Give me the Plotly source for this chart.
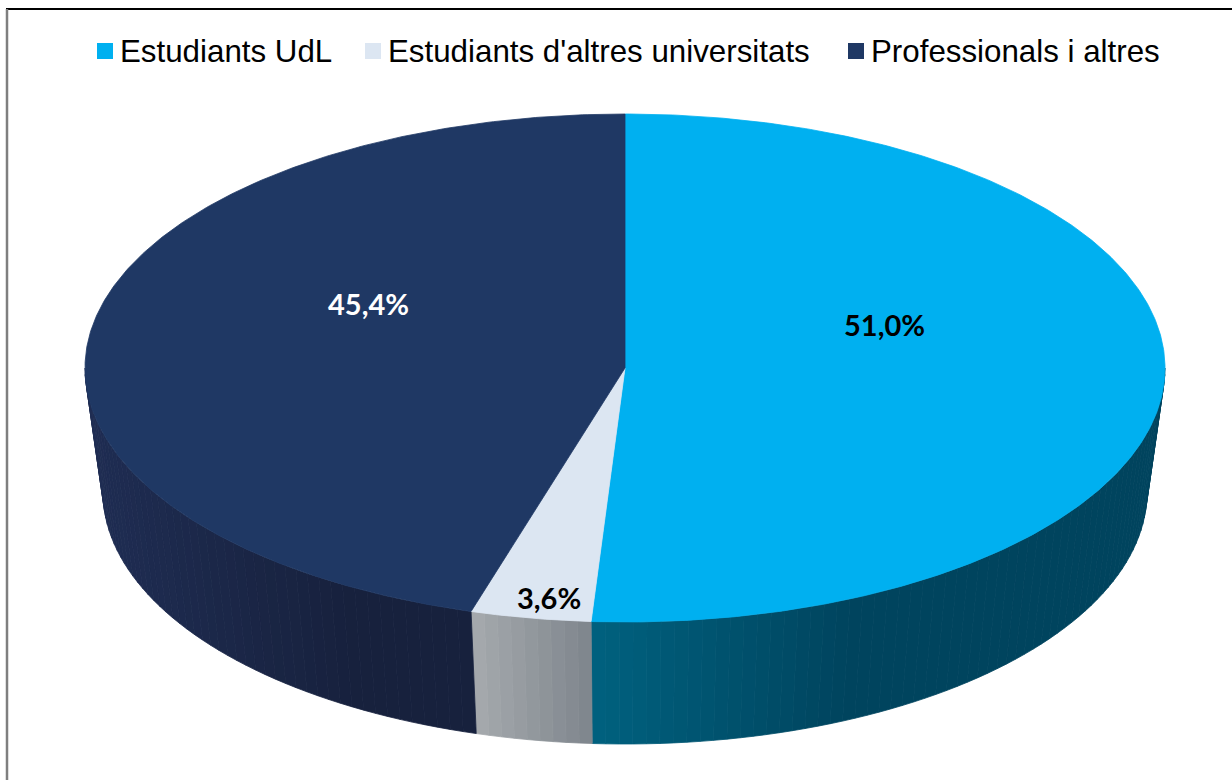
import numpy as np
import plotly.graph_objects as go

# ---------------- data ----------------
categories = ["Estudiants UdL", "Estudiants d'altres universitats", "Professionals i altres"]
shares = [51.0, 3.6, 45.4]
value_labels = ["51,0%", "3,6%", "45,4%"]

# ---------------- style ----------------
top_colors = ["#00B0F0", "#DCE6F2", "#1F3864"]
side_light = ["#00617F", "#A6AAAE", "#1F2D53"]
side_dark = ["#00445E", "#7E858C", "#17213D"]
label_colors = ["black", "black", "white"]
label_rfrac = [0.48, 0.80, 0.48]
label_dy = [-47, 29, -47]

# manual legend layout (pixel positions of each swatch's left edge)
legend_swatch_x = [97, 365, 848]
legend_y = 51
swatch = 16
legend_font = 31.3

W, H = 1232, 780
CX, CY, RX, RY = 625, 368, 540, 254          # top face ellipse
BCX, BCY, BRX, BRY = 625, 492, 522, 252      # bottom ellipse


def hex2rgb(h):
    h = h.lstrip("#")
    return np.array([int(h[i:i + 2], 16) for i in (0, 2, 4)], dtype=float)


def mix(c0, c1, t):
    c = hex2rgb(c0) * (1 - t) + hex2rgb(c1) * t
    return "rgb(%d,%d,%d)" % tuple(np.round(c).astype(int))


def top_pt(th):
    r = np.radians(th)
    return CX + RX * np.sin(r), CY - RY * np.cos(r)


def bot_pt(th):
    r = np.radians(th)
    return BCX + BRX * np.sin(r), BCY - BRY * np.cos(r)


fig = go.Figure()

total = sum(shares)
bounds = np.concatenate([[0], np.cumsum(shares) / total * 360.0])

# side faces (front half only), drawn as gradient strips
for i in range(len(shares)):
    a, b = bounds[i], bounds[i + 1]
    lo, hi = max(a, 90.0), min(b, 270.0)
    if hi <= lo:
        continue
    xs_edge = [top_pt(lo)[0], top_pt(hi)[0]]
    xl, xr = min(xs_edge), max(xs_edge)
    gw = min(xr - xl, 260.0)
    n = max(4, int(np.ceil((hi - lo) / 1.5)))
    ts = np.linspace(lo, hi, n + 1)
    for k in range(n):
        t0, t1 = ts[k], ts[k + 1]
        arc = np.linspace(t0, t1, 4)
        tx, ty = top_pt(arc)
        bx, by = bot_pt(arc[::-1])
        px = np.concatenate([tx, bx, [tx[0]]])
        py = np.concatenate([ty, by, [ty[0]]])
        xm = top_pt((t0 + t1) / 2)[0]
        f = float(np.clip((xm - xl) / gw, 0, 1))
        col = mix(side_light[i], side_dark[i], f)
        fig.add_trace(go.Scatter(x=px, y=py, mode="lines", fill="toself",
                                 fillcolor=col, line=dict(color=col, width=0.8),
                                 hoverinfo="skip", showlegend=False))

# top faces
for i in range(len(shares)):
    a, b = bounds[i], bounds[i + 1]
    arc = np.linspace(a, b, max(6, int((b - a) / 0.5)))
    ax_, ay_ = top_pt(arc)
    px = np.concatenate([[CX], ax_, [CX]])
    py = np.concatenate([[CY], ay_, [CY]])
    fig.add_trace(go.Scatter(x=px, y=py, mode="lines", fill="toself",
                             fillcolor=top_colors[i],
                             line=dict(color=top_colors[i], width=0.8),
                             hoverinfo="skip", showlegend=False))

# value labels
for i in range(len(shares)):
    mid = (bounds[i] + bounds[i + 1]) / 2
    r = np.radians(mid)
    lx = CX + RX * label_rfrac[i] * np.sin(r)
    ly = CY - RY * label_rfrac[i] * np.cos(r) + label_dy[i]
    fig.add_annotation(x=lx, y=ly, text="<b>%s</b>" % value_labels[i], showarrow=False,
                       font=dict(family="Lato", size=29, color=label_colors[i]),
                       xanchor="center", yanchor="middle")

# legend (swatches + labels)
for i, cat in enumerate(categories):
    sx = legend_swatch_x[i]
    fig.add_shape(type="rect", xref="x", yref="y", x0=sx, x1=sx + swatch,
                  y0=legend_y - swatch / 2, y1=legend_y + swatch / 2,
                  fillcolor=top_colors[i], line=dict(width=0))
    fig.add_annotation(x=sx + swatch + 5, y=legend_y, text=cat, showarrow=False,
                       xanchor="left", yanchor="middle",
                       font=dict(family="Liberation Sans", size=legend_font, color="black"))

# chart border (top black, left gray)
fig.add_shape(type="line", xref="x", yref="y", x0=6, x1=W, y0=9, y1=9,
              line=dict(color="black", width=2))
fig.add_shape(type="line", xref="x", yref="y", x0=7, x1=7, y0=9, y1=H,
              line=dict(color="#7F7F7F", width=2.5))

fig.update_layout(
    width=W, height=H,
    margin=dict(l=0, r=0, t=0, b=0),
    paper_bgcolor="white", plot_bgcolor="white",
    xaxis=dict(range=[0, W], visible=False, fixedrange=True),
    yaxis=dict(range=[H, 0], visible=False, fixedrange=True),
    showlegend=False,
)

fig.write_html("out.html", config={"displayModeBar": False},
               post_script="document.body.style.margin='0';document.body.style.overflow='hidden';")
